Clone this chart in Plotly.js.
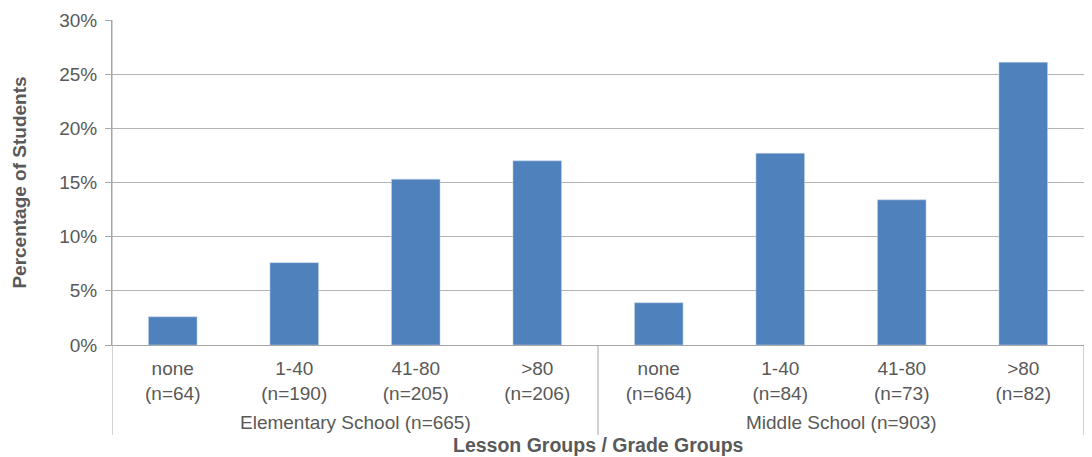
<!DOCTYPE html>
<html>
<head>
<meta charset="utf-8">
<script src="https://cdn.plot.ly/plotly-3.0.1.min.js"></script>
<style>html,body{margin:0;padding:0;background:#fff;}#chart{width:1092px;height:457px;}</style>
</head>
<body>
<div id="chart"></div>
<script>
// ---- data ----
const lessonGroups = ["none", "1-40", "41-80", ">80", "none", "1-40", "41-80", ">80"];
const groupCounts = ["(n=64)", "(n=190)", "(n=205)", "(n=206)", "(n=664)", "(n=84)", "(n=73)", "(n=82)"];
const gradeGroups = ["Elementary School (n=665)", "Middle School (n=903)"];
const gradeGroupSize = [4, 4];
const percentStudents = [0.026, 0.076, 0.153, 0.170, 0.039, 0.177, 0.134, 0.261];

// ---- derived ----
const xIdx = lessonGroups.map((_, i) => i);
const tickText = lessonGroups.map((g, i) => g + "<br>" + groupCounts[i]);
const textColor = "#595959";
const lineColor = "#a6a6a6";
const font = "Liberation Sans, Arial, sans-serif";
const fs = 19;

const shapes = [];
const annotations = [];
let start = 0;
// left axis extension line
shapes.push({type: "line", xref: "x", yref: "paper", x0: -0.5, x1: -0.5, y0: 1, y1: -0.277, line: {color: lineColor, width: 1}});
gradeGroups.forEach((g, k) => {
  const end = start + gradeGroupSize[k];
  annotations.push({text: g, xref: "x", yref: "paper", x: (start + end - 1) / 2, y: -0.237, showarrow: false,
    font: {family: font, size: fs, color: textColor}, yanchor: "middle"});
  shapes.push({type: "line", xref: "x", yref: "paper", x0: end - 0.5, x1: end - 0.5, y0: 0, y1: -0.277, line: {color: lineColor, width: 1}});
  start = end;
});
annotations.push({text: "<b>Lesson Groups / Grade Groups</b>", xref: "paper", yref: "paper", x: 0.5, y: -0.308,
  showarrow: false, yanchor: "middle", font: {family: font, size: 19.5, color: textColor}});

const trace = {
  type: "bar",
  x: xIdx,
  y: percentStudents,
  width: 0.4,
  marker: {color: "#4f81bd", line: {color: "#c6d6ea", width: 0.5}},
  hoverinfo: "y"
};

const layout = {
  width: 1092, height: 457,
  margin: {l: 112, r: 8, t: 20, b: 112},
  paper_bgcolor: "#ffffff", plot_bgcolor: "#ffffff",
  showlegend: false,
  font: {family: font, size: fs, color: textColor},
  xaxis: {
    range: [-0.5, 7.5], tickmode: "array", tickvals: xIdx, ticktext: tickText,
    showgrid: false, zeroline: false, showline: true, linecolor: lineColor, linewidth: 1,
    ticks: "", ticklabelstandoff: 6, tickfont: {family: font, size: fs, color: textColor}, fixedrange: true
  },
  yaxis: {
    range: [0, 0.30], dtick: 0.05, tickformat: ".0%",
    showgrid: true, gridcolor: "#b3b3b3", gridwidth: 1,
    zeroline: false, showline: true, linecolor: lineColor, linewidth: 1,
    ticks: "outside", ticklen: 6, tickcolor: lineColor, ticklabelstandoff: 4,
    tickfont: {family: font, size: fs, color: textColor},
    title: {text: "<b>Percentage of Students</b>", font: {family: font, size: fs, color: textColor}, standoff: 27},
    fixedrange: true
  },
  shapes: shapes,
  annotations: annotations,
  bargap: 0.6
};

Plotly.newPlot("chart", [trace], layout, {displayModeBar: false, staticPlot: true});
</script>
</body>
</html>
